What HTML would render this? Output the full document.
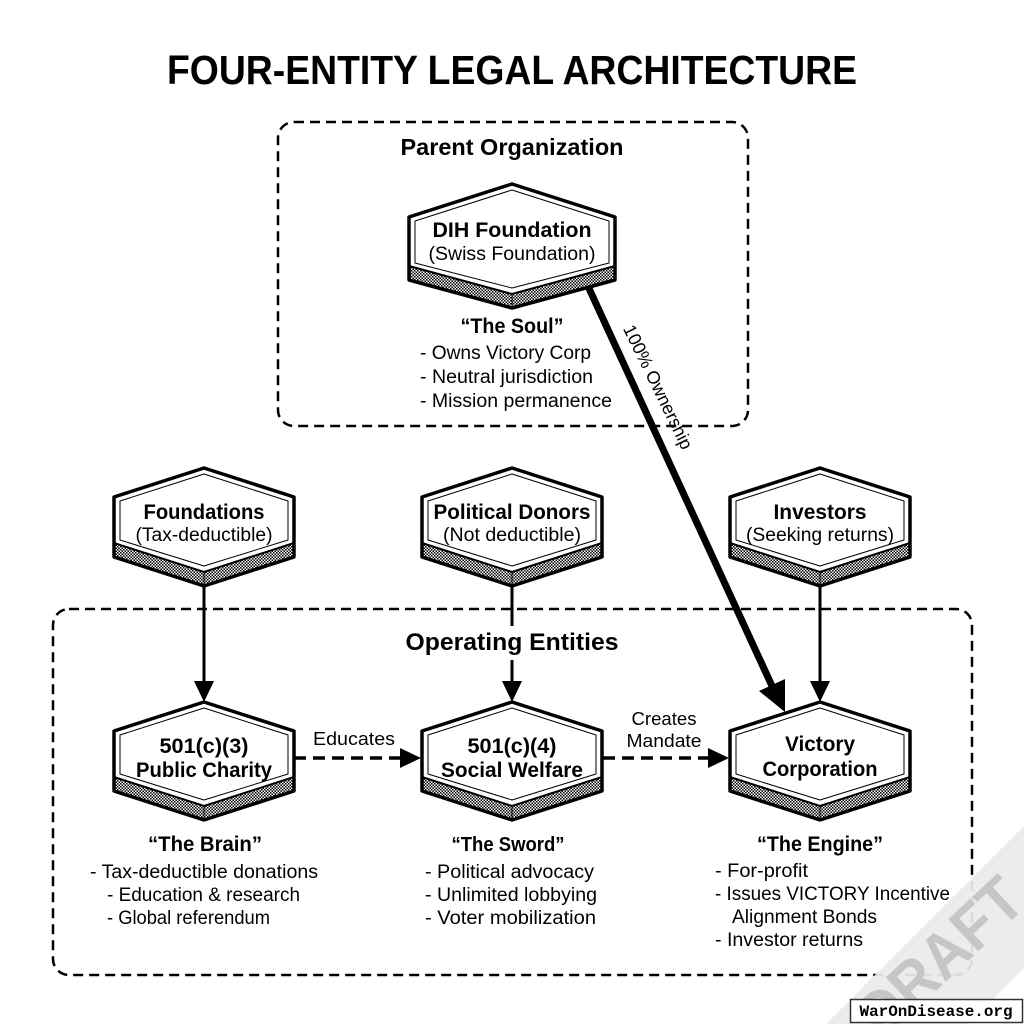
<!DOCTYPE html>
<html><head><meta charset="utf-8">
<style>
html,body{margin:0;padding:0;background:#fff;}
svg{display:block;}
text{font-family:"Liberation Sans",Arial,sans-serif;fill:#000;}
.b{font-weight:bold;}
</style></head>
<body>
<svg width="1024" height="1024" viewBox="0 0 1024 1024" xmlns="http://www.w3.org/2000/svg">
<defs>
<pattern id="chk" width="3" height="3" patternUnits="userSpaceOnUse">
<rect width="3" height="3" fill="#fff"/>
<rect width="1.5" height="1.5" fill="#000"/>
<rect x="1.5" y="1.5" width="1.5" height="1.5" fill="#000"/>
</pattern>
<g id="hx">
 <polygon points="-90,75 0,104 90,75 90,89 0,118 -90,89" fill="url(#chk)"/>
 <polygon points="0,0 90,29 90,75 0,104 -90,75 -90,29" fill="#fff"/>
 <polygon points="0,6 84,33 84,72 0,98 -84,72 -84,33" fill="none" stroke="#000" stroke-width="1" stroke-linejoin="round"/>
 <polyline points="-90,75 0,104 90,75" fill="none" stroke="#000" stroke-width="2"/>
 <line x1="0" y1="104" x2="0" y2="118" stroke="#000" stroke-width="1"/>
 <polygon points="0,0 90,29 90,89 0,118 -90,89 -90,29" fill="none" stroke="#000" stroke-width="3.5" stroke-linejoin="round"/>
</g>
</defs>

<rect width="1024" height="1024" fill="#fff"/>

<!-- Title -->
<text x="512" y="84" class="b" font-size="41" text-anchor="middle" textLength="690" lengthAdjust="spacingAndGlyphs">FOUR-ENTITY LEGAL ARCHITECTURE</text>

<!-- Boxes -->
<rect x="278" y="122" width="470" height="304" rx="16" fill="none" stroke="#000" stroke-width="2.5" stroke-dasharray="10 6"/>
<rect x="53" y="609" width="919" height="366" rx="16" fill="none" stroke="#000" stroke-width="2.5" stroke-dasharray="10 6"/>

<text x="512" y="155" class="b" font-size="23" text-anchor="middle" textLength="223" lengthAdjust="spacingAndGlyphs">Parent Organization</text>
<text x="512" y="650" class="b" font-size="24" text-anchor="middle" textLength="213" lengthAdjust="spacingAndGlyphs">Operating Entities</text>

<!-- Ownership arrow -->
<line x1="575" y1="258" x2="772" y2="686" stroke="#000" stroke-width="7"/>
<polygon points="785,712 785,679 759,691" fill="#000"/>
<text transform="translate(658,387) rotate(64)" dy="6" font-size="18" text-anchor="middle" textLength="136" lengthAdjust="spacingAndGlyphs">100% Ownership</text>

<!-- Vertical arrows -->
<line x1="204" y1="580" x2="204" y2="684" stroke="#000" stroke-width="3"/>
<polygon points="204,702 194,681 214,681" fill="#000"/>
<line x1="512" y1="580" x2="512" y2="626" stroke="#000" stroke-width="3"/>
<line x1="512" y1="660" x2="512" y2="684" stroke="#000" stroke-width="3"/>
<polygon points="512,702 502,681 522,681" fill="#000"/>
<line x1="820" y1="580" x2="820" y2="684" stroke="#000" stroke-width="3"/>
<polygon points="820,702 810,681 830,681" fill="#000"/>

<!-- Dashed horizontal arrows -->
<line x1="294" y1="758" x2="402" y2="758" stroke="#000" stroke-width="3.5" stroke-dasharray="12 7"/>
<polygon points="421,758 400,748 400,768" fill="#000"/>
<line x1="603" y1="758" x2="710" y2="758" stroke="#000" stroke-width="3.5" stroke-dasharray="12 7"/>
<polygon points="729,758 708,748 708,768" fill="#000"/>
<text x="354" y="745" font-size="18" text-anchor="middle" textLength="82" lengthAdjust="spacingAndGlyphs">Educates</text>
<text x="664" y="725" font-size="18" text-anchor="middle" textLength="65" lengthAdjust="spacingAndGlyphs">Creates</text>
<text x="664" y="747" font-size="18" text-anchor="middle" textLength="75" lengthAdjust="spacingAndGlyphs">Mandate</text>

<!-- DIH hex -->
<polygon points="409,266 512,294 615,266 615,280 512,308 409,280" fill="url(#chk)"/>
<polygon points="512,184 615,217 615,266 512,294 409,266 409,217" fill="#fff"/>
<polygon points="512,190 609,221 609,263 512,288 415,263 415,221" fill="none" stroke="#000" stroke-width="1" stroke-linejoin="round"/>
<polyline points="409,266 512,294 615,266" fill="none" stroke="#000" stroke-width="2"/>
<line x1="512" y1="294" x2="512" y2="308" stroke="#000" stroke-width="1"/>
<polygon points="512,184 615,217 615,280 512,308 409,280 409,217" fill="none" stroke="#000" stroke-width="3.5" stroke-linejoin="round"/>
<text x="512" y="237" class="b" font-size="21" text-anchor="middle" textLength="159" lengthAdjust="spacingAndGlyphs">DIH Foundation</text>
<text x="512" y="260" font-size="19" text-anchor="middle" textLength="167" lengthAdjust="spacingAndGlyphs">(Swiss Foundation)</text>

<!-- Soul text -->
<text x="512" y="333" class="b" font-size="21" text-anchor="middle" textLength="103" lengthAdjust="spacingAndGlyphs">“The Soul”</text>
<text x="420" y="359" font-size="19" textLength="171" lengthAdjust="spacingAndGlyphs">- Owns Victory Corp</text>
<text x="420" y="383" font-size="19" textLength="173" lengthAdjust="spacingAndGlyphs">- Neutral jurisdiction</text>
<text x="420" y="407" font-size="19" textLength="192" lengthAdjust="spacingAndGlyphs">- Mission permanence</text>

<!-- Row 1 hexes -->
<use href="#hx" x="204" y="468"/>
<use href="#hx" x="512" y="468"/>
<use href="#hx" x="820" y="468"/>
<text x="204" y="519" class="b" font-size="21" text-anchor="middle" textLength="121" lengthAdjust="spacingAndGlyphs">Foundations</text>
<text x="204" y="541" font-size="19" text-anchor="middle" textLength="137" lengthAdjust="spacingAndGlyphs">(Tax-deductible)</text>
<text x="512" y="519" class="b" font-size="21" text-anchor="middle" textLength="157" lengthAdjust="spacingAndGlyphs">Political Donors</text>
<text x="512" y="541" font-size="19" text-anchor="middle" textLength="138" lengthAdjust="spacingAndGlyphs">(Not deductible)</text>
<text x="820" y="519" class="b" font-size="21" text-anchor="middle" textLength="93" lengthAdjust="spacingAndGlyphs">Investors</text>
<text x="820" y="541" font-size="19" text-anchor="middle" textLength="148" lengthAdjust="spacingAndGlyphs">(Seeking returns)</text>

<!-- Row 2 hexes -->
<use href="#hx" x="204" y="702"/>
<use href="#hx" x="512" y="702"/>
<use href="#hx" x="820" y="702"/>
<text x="204" y="753" class="b" font-size="21" text-anchor="middle" textLength="89" lengthAdjust="spacingAndGlyphs">501(c)(3)</text>
<text x="204" y="777" class="b" font-size="21" text-anchor="middle" textLength="136" lengthAdjust="spacingAndGlyphs">Public Charity</text>
<text x="512" y="753" class="b" font-size="21" text-anchor="middle" textLength="89" lengthAdjust="spacingAndGlyphs">501(c)(4)</text>
<text x="512" y="777" class="b" font-size="21" text-anchor="middle" textLength="142" lengthAdjust="spacingAndGlyphs">Social Welfare</text>
<text x="820" y="751" class="b" font-size="21" text-anchor="middle" textLength="70" lengthAdjust="spacingAndGlyphs">Victory</text>
<text x="820" y="776" class="b" font-size="21" text-anchor="middle" textLength="115" lengthAdjust="spacingAndGlyphs">Corporation</text>

<!-- Brain -->
<text x="205" y="851" class="b" font-size="21" text-anchor="middle" textLength="114" lengthAdjust="spacingAndGlyphs">“The Brain”</text>
<text x="90" y="878" font-size="19" textLength="228" lengthAdjust="spacingAndGlyphs">- Tax-deductible donations</text>
<text x="107" y="901" font-size="19" textLength="193" lengthAdjust="spacingAndGlyphs">- Education &amp; research</text>
<text x="107" y="924" font-size="19" textLength="163" lengthAdjust="spacingAndGlyphs">- Global referendum</text>

<!-- Sword -->
<text x="508" y="851" class="b" font-size="20" text-anchor="middle" textLength="113" lengthAdjust="spacingAndGlyphs">“The Sword”</text>
<text x="425" y="878" font-size="19" textLength="169" lengthAdjust="spacingAndGlyphs">- Political advocacy</text>
<text x="425" y="901" font-size="19" textLength="172" lengthAdjust="spacingAndGlyphs">- Unlimited lobbying</text>
<text x="425" y="924" font-size="19" textLength="171" lengthAdjust="spacingAndGlyphs">- Voter mobilization</text>

<!-- Engine -->
<text x="820" y="851" class="b" font-size="21" text-anchor="middle" textLength="126" lengthAdjust="spacingAndGlyphs">“The Engine”</text>
<text x="715" y="877" font-size="19" textLength="93" lengthAdjust="spacingAndGlyphs">- For-profit</text>
<text x="715" y="900" font-size="19" textLength="235" lengthAdjust="spacingAndGlyphs">- Issues VICTORY Incentive</text>
<text x="732" y="923" font-size="19" textLength="145" lengthAdjust="spacingAndGlyphs">Alignment Bonds</text>
<text x="715" y="946" font-size="19" textLength="148" lengthAdjust="spacingAndGlyphs">- Investor returns</text>

<!-- DRAFT watermark -->
<polygon points="1024,826 1024,968 968,1024 826,1024" fill="#ebebeb" fill-opacity="0.93"/>
<text transform="translate(940,957) rotate(-43)" class="b" font-size="64" text-anchor="middle" dy="22" textLength="200" lengthAdjust="spacingAndGlyphs" style="fill:#c6c6c6">DRAFT</text>

<!-- Footer tag -->
<rect x="850.5" y="999.5" width="172" height="23" fill="#fff" stroke="#333" stroke-width="1.5"/>
<text x="936" y="1016" font-size="16" text-anchor="middle" textLength="153" lengthAdjust="spacingAndGlyphs" style="font-family:'Liberation Mono',monospace;font-weight:bold;">WarOnDisease.org</text>
</svg>
</body></html>
